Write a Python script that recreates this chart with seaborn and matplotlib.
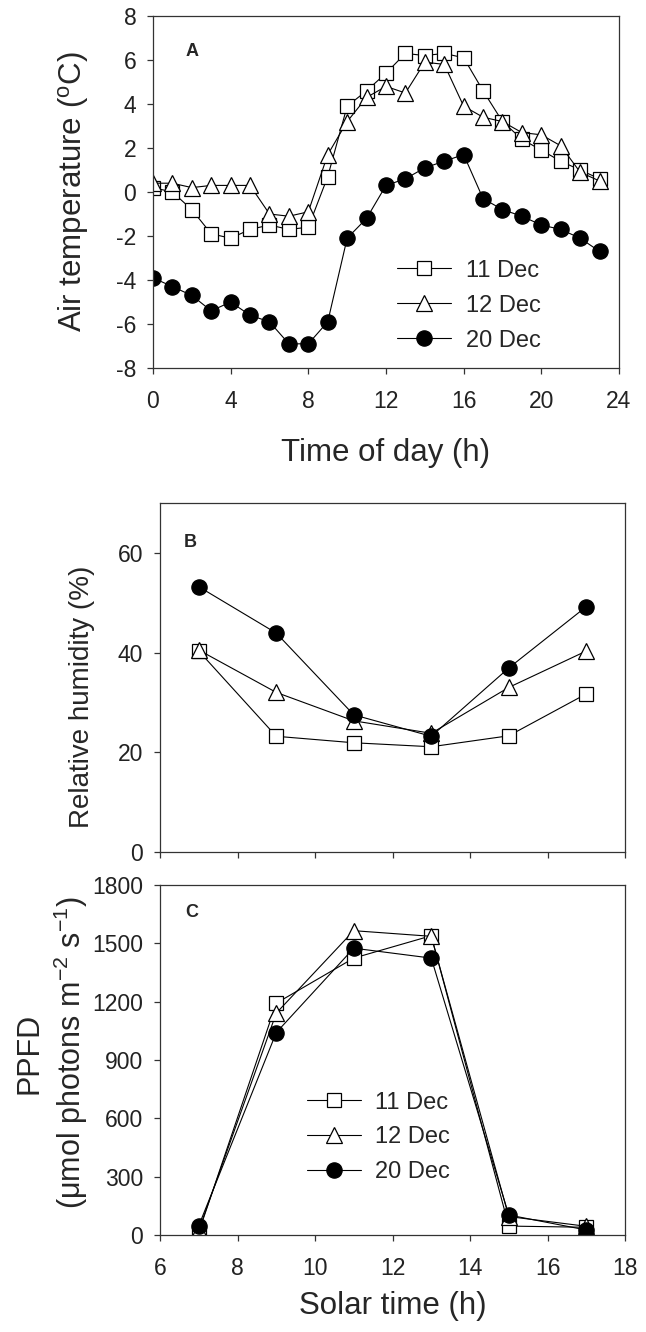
import numpy as np
import pandas as pd
import matplotlib
matplotlib.use("Agg")
import matplotlib.pyplot as plt
import seaborn as sns

# Panel A: air temperature by hour
hours = list(range(24))
temp_11dec = [0.2, 0.0, -0.8, -1.9, -2.1, -1.7, -1.5, -1.7, -1.6, 0.7, 3.9, 4.6,
              5.4, 6.3, 6.2, 6.3, 6.1, 4.6, 3.2, 2.4, 1.9, 1.4, 1.0, 0.6]
temp_12dec = [0.4, 0.4, 0.2, 0.3, 0.3, 0.3, -1.0, -1.1, -0.9, 1.7, 3.2, 4.3,
              4.8, 4.5, 5.9, 5.8, 3.9, 3.4, 3.2, 2.7, 2.6, 2.1, 0.9, 0.5]
temp_20dec = [-3.9, -4.3, -4.7, -5.4, -5.0, -5.6, -5.9, -6.9, -6.9, -5.9, -2.1, -1.2,
              0.3, 0.6, 1.1, 1.4, 1.7, -0.3, -0.8, -1.1, -1.5, -1.7, -2.1, -2.7]

# Panels B and C: solar time
solar_time = [7, 9, 11, 13, 15, 17]
rh_11dec = [40.3, 23.2, 21.9, 21.1, 23.3, 31.7]
rh_12dec = [40.5, 32.0, 26.3, 23.8, 33.0, 40.3]
rh_20dec = [53.2, 43.9, 27.5, 23.2, 36.9, 49.2]
ppfd_11dec = [15, 1192, 1424, 1539, 46, 40]
ppfd_12dec = [25, 1141, 1565, 1536, 95, 45]
ppfd_20dec = [48, 1041, 1475, 1424, 103, 26]

days = ["11 Dec", "12 Dec", "20 Dec"]

sns.set_theme(style="ticks")
plt.rcParams["font.family"] = ["Liberation Sans", "DejaVu Sans"]
plt.rcParams["axes.edgecolor"] = "#333333"
plt.rcParams["axes.linewidth"] = 0.9
plt.rcParams["axes.unicode_minus"] = False

styles = {
    "11 Dec": dict(marker="s", markerfacecolor="white", markersize=10),
    "12 Dec": dict(marker="^", markerfacecolor="white", markersize=11),
    "20 Dec": dict(marker="o", markerfacecolor="black", markersize=11),
}


def draw(ax, x, series):
    for day, y in zip(days, series):
        sns.lineplot(x=x, y=y, ax=ax, color="black", linewidth=0.8,
                     markeredgecolor="black", markeredgewidth=0.9,
                     label=day, **styles[day])


def style_axes(ax):
    for s in ax.spines.values():
        s.set_visible(True)
    ax.tick_params(direction="out", length=4, width=0.9, color="#333333",
                   labelsize=16.5, colors="#222222")
    ax.tick_params(axis="y", pad=8)
    ax.tick_params(axis="x", pad=12)


def add_legend(ax, anchor):
    ax.legend(loc="upper left", bbox_to_anchor=anchor, frameon=False,
              fontsize=17, handlelength=2.3, handletextpad=0.6,
              labelspacing=0.55, borderpad=0, borderaxespad=0)


fig = plt.figure(figsize=(6.46, 13.32), dpi=100)
axA = fig.add_axes([0.2368, 0.7237, 0.7214, 0.2643])
axB = fig.add_axes([0.2477, 0.3604, 0.7198, 0.2620])
axC = fig.add_axes([0.2477, 0.0728, 0.7198, 0.2628])

# Panel A
draw(axA, hours, [temp_11dec, temp_12dec, temp_20dec])
axA.set_xlim(0, 24)
axA.set_ylim(-8, 8)
axA.set_xticks(range(0, 25, 4))
axA.set_yticks(range(-8, 9, 2))
axA.set_xlabel("Time of day (h)", fontsize=22.5, labelpad=18)
axA.set_ylabel("Air temperature ($\\mathregular{^o}$C)", fontsize=22.5)
axA.yaxis.set_label_coords(-0.133, 0.5)
axA.text(0.069, 0.898, "A", transform=axA.transAxes, fontsize=13,
         fontweight="bold", va="center")
add_legend(axA, (0.524, 0.308))
style_axes(axA)

# Panel B
draw(axB, solar_time, [rh_11dec, rh_12dec, rh_20dec])
axB.set_xlim(6, 18)
axB.set_ylim(0, 70)
axB.set_xticks(range(6, 19, 2))
axB.set_xticklabels([])
axB.set_yticks(range(0, 61, 20))
axB.set_xlabel("")
axB.set_ylabel("Relative humidity (%)", fontsize=20)
axB.yaxis.set_label_coords(-0.14, 0.444)
axB.text(0.05, 0.888, "B", transform=axB.transAxes, fontsize=13,
         fontweight="bold", va="center")
axB.get_legend().remove()
style_axes(axB)

# Panel C
draw(axC, solar_time, [ppfd_11dec, ppfd_12dec, ppfd_20dec])
axC.set_xlim(6, 18)
axC.set_ylim(0, 1800)
axC.set_xticks(range(6, 19, 2))
axC.set_yticks(range(0, 1801, 300))
axC.set_xlabel("Solar time (h)", fontsize=22.5, labelpad=8)
axC.set_ylabel("PPFD\n($\\mathregular{\\mu}$mol photons m$^{\\mathregular{-2}}$ s$^{\\mathregular{-1}}$)",
               fontsize=22, linespacing=1.25)
axC.yaxis.set_label_coords(-0.15, 0.52)
axC.text(0.054, 0.92, "C", transform=axC.transAxes, fontsize=13,
         fontweight="bold", va="center")
add_legend(axC, (0.316, 0.41))
style_axes(axC)

fig.savefig("out.png", dpi=100)
